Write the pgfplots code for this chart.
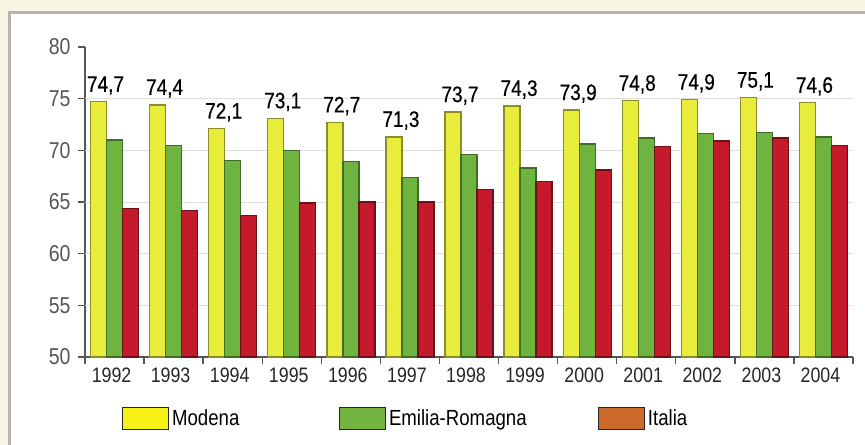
\documentclass[border=0pt]{standalone}
\usepackage{pgfplots}
\pgfplotsset{compat=1.18}
\usepackage{pgfplotstable}
\usepackage{fontspec}
\setmainfont{Liberation Sans}[FakeStretch=0.85]
\newfontfamily\lblfont{Liberation Sans}[FakeStretch=0.85, FakeBold=0.4]
\definecolor{bgbeige}{RGB}{247,244,228}
\definecolor{bordergray}{RGB}{186,179,168}
\definecolor{barY}{RGB}{232,236,58}
\definecolor{barYd}{RGB}{140,140,40}
\definecolor{barG}{RGB}{110,180,62}
\definecolor{barGd}{RGB}{62,110,40}
\definecolor{barR}{RGB}{196,26,44}
\definecolor{barRd}{RGB}{110,16,24}
\definecolor{legY}{RGB}{247,242,20}
\definecolor{legG}{RGB}{114,180,63}
\definecolor{legR}{RGB}{204,106,44}
\definecolor{gridc}{RGB}{222,222,222}
\definecolor{axc}{RGB}{85,85,85}

\pgfplotstableread{
x modena emilia italia
0 74.7 71.0 64.4
1 74.4 70.5 64.2
2 72.1 69.0 63.7
3 73.1 70.0 64.9
4 72.7 68.9 65.0
5 71.3 67.4 65.0
6 73.7 69.6 66.2
7 74.3 68.3 67.0
8 73.9 70.6 68.1
9 74.8 71.2 70.4
10 74.9 71.6 70.9
11 75.1 71.7 71.2
12 74.6 71.3 70.5
}\datatable

\begin{document}
\begin{tikzpicture}
\useasboundingbox (0,0) rectangle (865bp,-445bp);
\fill[bgbeige] (0,0) rectangle (865bp,-445bp);
\fill[white] (9bp,-12bp) rectangle (865bp,-445bp);
\draw[bordergray, line width=3bp] (9.5bp,-445bp) -- (9.5bp,-12.5bp) -- (865bp,-12.5bp);
\begin{axis}[
  at={(85bp,-357bp)}, anchor=south west,
  width=768bp, height=310bp, scale only axis,
  xmin=-0.5, xmax=12.5, ymin=50, ymax=80,
  axis lines=left,
  axis line style={-, draw=axc, line width=1.4bp},
  ybar, bar width=16bp,
  xtick={0,...,12},
  xticklabels={1992,1993,1994,1995,1996,1997,1998,1999,2000,2001,2002,2003,2004},
  major x tick style={draw=none},
  minor xtick={-0.5,0.5,...,12.5},
  ytick={50,55,...,80},
  extra y ticks={55,60,65,70,75},
  extra y tick labels={},
  extra y tick style={grid=major, major tick length=0pt},
  grid style={gridc, line width=1bp},
  tick align=outside,
  major tick length=7bp, minor tick length=7bp,
  tick style={axc, line width=1.4bp},
  /pgf/number format/assume math mode=true,
  yticklabel style={font=\fontsize{23}{24}\selectfont, text=axc, xshift=-4bp},
  xticklabel style={font=\fontsize{21}{24}\selectfont, text=black!85, xshift=-3bp},
  legend image code/.code={\draw[#1, draw=black!85, line width=0.9bp] (0bp,-11bp) rectangle (46bp,11bp);},
  legend style={at={(0.0482,-0.197)}, anchor=west, draw=none, fill=none, inner sep=0pt,
    font=\fontsize{22}{24}\selectfont, legend columns=3,
    nodes={inner sep=3bp}},
]
\addplot[forget plot, bar shift=-16bp, fill=barY, draw=barYd, line width=1.3bp,
  nodes near coords,
  nodes near coords style={font=\lblfont\fontsize{22.5}{24}\selectfont, text=black, anchor=base, yshift=10bp, xshift=7bp,
    /pgf/number format/.cd, use comma, fixed, fixed zerofill, precision=1, assume math mode=true}]
  table[x=x, y=modena] {\datatable};
\addplot[forget plot, bar shift=0bp, fill=barG, draw=barGd, line width=1.3bp]
  table[x=x, y=emilia] {\datatable};
\addplot[forget plot, bar shift=16bp, fill=barR, draw=barRd, line width=1.3bp]
  table[x=x, y=italia] {\datatable};
\addlegendimage{fill=legY}
\addlegendentry[text width=164bp]{Modena}
\addlegendimage{fill=legG}
\addlegendentry[text width=206bp]{Emilia-Romagna}
\addlegendimage{fill=legR}
\addlegendentry{Italia}
\end{axis}
\end{tikzpicture}
\end{document}
